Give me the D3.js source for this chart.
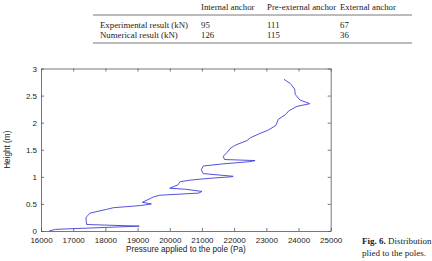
<!DOCTYPE html>
<html><head><meta charset="utf-8">
<script src="https://cdn.jsdelivr.net/npm/d3@7"></script>
<style>body{margin:0;background:#fff}svg{display:block}</style>
</head><body>
<svg id="c" width="432" height="261"></svg>
<script>
const tableHeaders = ["Internal anchor", "Pre-external anchor", "External anchor"];
const tableRows = ["Experimental result (kN)", "Numerical result (kN)"];
const experimental = [95, 111, 67];
const numerical = [126, 115, 36];
const xTicks = [16000,17000,18000,19000,20000,21000,22000,23000,24000,25000];
const yTicks = [0,0.5,1,1.5,2,2.5,3];
const pressure = [16250,16450,17300,19050,17420,17400,17400,17520,18040,18250,19100,19430,19150,19500,19680,20900,21000,20500,20000,20250,20320,20650,21000,21400,21900,21970,21040,20980,21040,21660,22490,22650,21700,21660,21800,21870,22020,22400,22500,22800,23050,23300,23370,23600,23700,23950,24350,24040,23900,23880,23750,23550];
const height =   [0.0,0.03,0.05,0.09,0.12,0.2,0.25,0.33,0.40,0.43,0.47,0.50,0.53,0.63,0.66,0.70,0.73,0.77,0.79,0.85,0.91,0.94,0.96,0.98,1.0,1.01,1.06,1.13,1.2,1.24,1.28,1.30,1.32,1.38,1.46,1.52,1.58,1.67,1.72,1.80,1.86,1.95,2.06,2.15,2.22,2.30,2.35,2.42,2.52,2.62,2.72,2.80];

const svg = d3.select("#c");
const L=41,R=330.7,T=68.5,B=231;
const x = d3.scaleLinear().domain([16000,25000]).range([L,R]);
const y = d3.scaleLinear().domain([0,3]).range([B,T]);

// table
const serif = "'Liberation Serif','Times New Roman',serif";
const colX = [201,267,340];
const tg = svg.append("g").attr("font-family",serif).attr("font-size","8.8px").attr("fill","#222");
tableHeaders.forEach((h,i)=>tg.append("text").attr("x",colX[i]).attr("y",9.5).text(h));
tableRows.forEach((r,j)=>{
  tg.append("text").attr("x",100).attr("y",27.5+j*10).text(r);
  const vals = j===0?experimental:numerical;
  vals.forEach((v,i)=>tg.append("text").attr("x",colX[i]).attr("y",27.5+j*10).text(v));
});
tg.append("line").attr("x1",93).attr("x2",412).attr("y1",15).attr("y2",15).attr("stroke","#555").attr("stroke-width",0.8);
tg.append("line").attr("x1",93).attr("x2",412).attr("y1",43).attr("y2",43).attr("stroke","#555").attr("stroke-width",0.8);

// axes
const sans = "'Liberation Sans',Arial,sans-serif";
const fs = "8px";
const ax = svg.append("g").attr("transform",`translate(0,${B})`).call(d3.axisBottom(x).tickValues(xTicks).tickSizeInner(-3).tickSizeOuter(0).tickPadding(6).tickFormat(d3.format("d")));
const ay = svg.append("g").attr("transform",`translate(${L},0)`).call(d3.axisLeft(y).tickValues(yTicks).tickSizeInner(-3).tickSizeOuter(0).tickPadding(4).tickFormat(d=>d));
const axT = svg.append("g").attr("transform",`translate(0,${T})`).call(d3.axisTop(x).tickValues(xTicks).tickSizeInner(-3).tickSizeOuter(0).tickFormat(""));
const ayR = svg.append("g").attr("transform",`translate(${R},0)`).call(d3.axisRight(y).tickValues(yTicks).tickSizeInner(-3).tickSizeOuter(0).tickFormat(""));
[ax,ay,axT,ayR].forEach(g=>{
  g.selectAll("path").attr("stroke","#555").attr("stroke-width",0.8);
  g.selectAll("line").attr("stroke","#555").attr("stroke-width",0.8);
  g.selectAll("text").attr("font-family",sans).attr("font-size",fs).attr("fill","#222");
});

svg.append("text").attr("x",(L+R)/2).attr("y",252).attr("text-anchor","middle").attr("font-family",sans).attr("font-size","8.2px").attr("fill","#222").text("Pressure applied to the pole (Pa)");
svg.append("text").attr("transform",`translate(9.5,${(T+B)/2}) rotate(-90)`).attr("text-anchor","middle").attr("font-family",sans).attr("font-size","8.2px").attr("fill","#222").text("Height (m)");

// curve
const pts = pressure.map((p,i)=>[p,height[i]]);
svg.append("path").datum(pts).attr("fill","none").attr("stroke","#4040d4").attr("stroke-width",0.9)
  .attr("d",d3.line().x(d=>x(d[0])).y(d=>y(d[1])));

// caption
const cap = svg.append("g").attr("font-family",serif).attr("font-size","9px").attr("fill","#222");
const t1 = cap.append("text").attr("x",362).attr("y",244);
t1.append("tspan").attr("font-weight","bold").text("Fig. 6.");
t1.append("tspan").text(" Distribution");
cap.append("text").attr("x",362).attr("y",255.5).text("plied to the poles.");
</script>
</body></html>
